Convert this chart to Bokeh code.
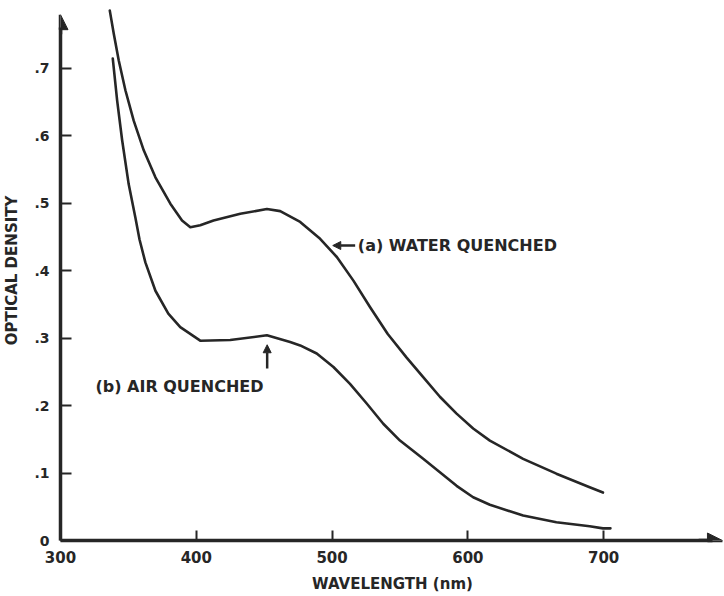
from bokeh.plotting import figure
from bokeh.models import Range1d, FixedTicker, CustomJSTickFormatter, Arrow, NormalHead, Label
from bokeh.embed import file_html
from bokeh.resources import INLINE

# ---- data ----
water_x = [336.3, 339.2, 342.9, 347.8, 353.9, 361.3, 369.9, 380.9, 389.5, 395.6, 402.9, 412.7,
           432.4, 452.0, 461.8, 476.5, 491.2, 503.5, 515.7, 527.9, 541.0, 554.9, 567.1, 579.4,
           591.7, 603.9, 616.2, 640.7, 665.2, 689.7, 699.5]
water_y = [0.785, 0.751, 0.711, 0.667, 0.622, 0.578, 0.538, 0.499, 0.474, 0.464, 0.467, 0.474,
           0.484, 0.491, 0.488, 0.472, 0.447, 0.420, 0.385, 0.346, 0.306, 0.271, 0.242, 0.213,
           0.188, 0.166, 0.148, 0.121, 0.099, 0.079, 0.071]

air_x = [338.5, 341.7, 345.4, 350.2, 355.1, 358.2, 362.5, 369.9, 379.4, 388.2, 402.9, 425.0,
         452.0, 469.1, 476.5, 488.7, 501.0, 513.2, 525.5, 537.7, 550.0, 567.1, 579.4, 591.7,
         603.9, 616.2, 640.7, 665.2, 689.7, 699.5, 705.0]
air_y = [0.714, 0.652, 0.593, 0.528, 0.479, 0.446, 0.412, 0.370, 0.336, 0.316, 0.296, 0.297,
         0.304, 0.294, 0.289, 0.277, 0.257, 0.232, 0.203, 0.173, 0.148, 0.121, 0.101, 0.081,
         0.064, 0.053, 0.037, 0.027, 0.021, 0.018, 0.018]

x_ticks = [300, 400, 500, 600, 700]
y_ticks = [0, 0.1, 0.2, 0.3, 0.4, 0.5, 0.6, 0.7]
x_label = "WAVELENGTH (nm)"
y_label = "OPTICAL DENSITY"

label_a = "(a) WATER QUENCHED"
label_b = "(b) AIR QUENCHED"
label_a_pos = [519.0, 0.437]
label_b_pos = [325.7, 0.228]
arrow_a = [517.0, 0.437, 500.5, 0.437]   # x_start, y_start, x_end, y_end
arrow_b = [452.2, 0.255, 452.2, 0.290]

INK = "#262626"
FONT = "DejaVu Sans"

p = figure(width=724, height=596,
           x_range=Range1d(300, 789), y_range=Range1d(0, 0.8),
           output_backend="svg", toolbar_location=None,
           min_border_left=59, min_border_right=0, min_border_top=0, min_border_bottom=56)
p.outline_line_color = None
p.grid.visible = False
p.background_fill_color = "white"
p.border_fill_color = "white"

p.line(water_x, water_y, line_color=INK, line_width=2.6, line_join="round", line_cap="round")
p.line(air_x, air_y, line_color=INK, line_width=2.6, line_join="round", line_cap="round")

# axes
for ax in (p.xaxis, p.yaxis):
    ax.axis_line_width = 3.5
    ax.axis_line_color = INK
    ax.major_tick_line_width = 2
    ax.major_tick_line_color = INK
    ax.minor_tick_line_color = None
    ax.major_tick_out = 0
    ax.major_label_text_font = FONT
    ax.major_label_text_font_style = "bold"
    ax.major_label_text_color = INK
    ax.axis_label_text_font = FONT
    ax.axis_label_text_font_style = "bold"
    ax.axis_label_text_color = INK
    ax.axis_label_text_font_size = "15px"

p.xaxis.ticker = FixedTicker(ticks=x_ticks)
p.xaxis.major_tick_in = 10
p.xaxis.bounds = (300, 780)
p.xaxis.major_label_text_font_size = "15px"
p.xaxis.major_label_standoff = 10
p.xaxis.axis_label = x_label
p.xaxis.axis_label_standoff = 9

p.yaxis.ticker = FixedTicker(ticks=y_ticks)
p.yaxis.major_tick_in = 11
p.yaxis.bounds = (0, 0.76)
p.yaxis.major_label_text_font_size = "14px"
p.yaxis.major_label_standoff = 11
p.yaxis.formatter = CustomJSTickFormatter(code="return tick == 0 ? '0' : '.' + Math.round(tick * 10);")
p.yaxis.axis_label = y_label
p.yaxis.axis_label_standoff = 10

# axis arrowheads
p.add_layout(Arrow(end=NormalHead(size=15, fill_color=INK, line_color=INK),
                   x_start=770, y_start=0, x_end=787.5, y_end=0,
                   line_color=INK, line_width=3.5))
p.add_layout(Arrow(end=NormalHead(size=15, fill_color=INK, line_color=INK),
                   x_start=300, y_start=0.75, x_end=300, y_end=0.779,
                   line_color=INK, line_width=3.5))

# curve annotations
p.add_layout(Arrow(end=NormalHead(size=8, fill_color=INK, line_color=INK),
                   x_start=arrow_a[0], y_start=arrow_a[1], x_end=arrow_a[2], y_end=arrow_a[3],
                   line_color=INK, line_width=2.5))
p.add_layout(Arrow(end=NormalHead(size=8, fill_color=INK, line_color=INK),
                   x_start=arrow_b[0], y_start=arrow_b[1], x_end=arrow_b[2], y_end=arrow_b[3],
                   line_color=INK, line_width=2.5))

p.add_layout(Label(x=label_a_pos[0], y=label_a_pos[1], text=label_a, text_baseline="middle",
                   text_align="left", text_font=FONT, text_font_style="bold",
                   text_font_size="16px", text_color=INK))
p.add_layout(Label(x=label_b_pos[0], y=label_b_pos[1], text=label_b, text_baseline="middle",
                   text_align="left", text_font=FONT, text_font_style="bold",
                   text_font_size="16px", text_color=INK))

open("out.html", "w").write(file_html(p, INLINE))
